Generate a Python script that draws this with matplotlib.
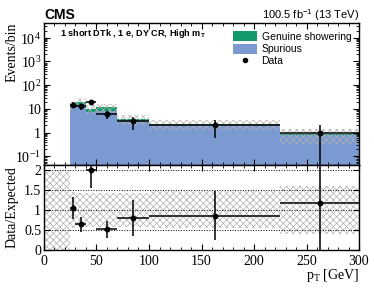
import numpy as np
import matplotlib
matplotlib.use('Agg')
import matplotlib.pyplot as plt
from matplotlib.patches import Patch
from matplotlib.lines import Line2D
from matplotlib.ticker import FixedLocator, FixedFormatter, MultipleLocator, NullFormatter

plt.rcParams['font.family'] = ['Liberation Serif', 'DejaVu Serif']
plt.rcParams['mathtext.fontset'] = 'custom'
plt.rcParams['mathtext.rm'] = 'Liberation Serif'
plt.rcParams['hatch.linewidth'] = 0.5

# binning (GeV)
bin_edges = [25, 30, 40, 50, 70, 100, 225, 300]

# stacked backgrounds (events/bin)
spurious = [11.5, 14.5, 7.2, 8.4, 3.2, 2.15, 0.82]
genuine = [2.9, 5.8, 2.8, 3.1, 0.6, 0.18, 0.03]
# relative uncertainty on expectation
rel_unc = [0.45, 0.42, 0.42, 0.42, 0.43, 0.46, 0.60]

# data
data = [15, 13, 20, 6, 3, 2, 1]
data_err = [3.9, 3.6, 4.5, 2.4, 1.7, 1.4, 1.0]

# ratio panel
ratio = [1.04, 0.64, 2.0, 0.52, 0.79, 0.86, 1.18]
ratio_err = [0.27, 0.18, 0.45, 0.21, 0.45, 0.61, 1.18]

edges = np.array(bin_edges, dtype=float)
widths = np.diff(edges)
centers = edges[:-1] + widths / 2
spurious = np.array(spurious)
genuine = np.array(genuine)
expected = spurious + genuine
rel_unc = np.array(rel_unc)

blue = '#7b9ad2'
green = '#13996a'
hatch_col = '#b0b0b0'
sans = 'Liberation Sans'

fig = plt.figure(figsize=(3.74, 3.01), dpi=100)
ax1 = fig.add_axes([0.1176, 0.4518, 0.8424, 0.4728])
ax2 = fig.add_axes([0.1176, 0.1694, 0.8424, 0.2824], sharex=ax1)

# --- top panel
ax1.bar(edges[:-1], spurious, width=widths, align='edge', color=blue, lw=0)
ax1.bar(edges[:-1], genuine, width=widths, bottom=spurious, align='edge', color=green, lw=0)
ax1.bar(edges[:-1], 2 * rel_unc * expected, width=widths, bottom=expected * (1 - rel_unc),
        align='edge', fill=False, hatch='xxxxx', edgecolor=hatch_col, lw=0)
ax1.errorbar(centers, data, xerr=widths / 2, yerr=data_err, fmt='o', color='black',
             ms=3.2, elinewidth=1.1, capsize=0)

ax1.set_yscale('log')
ax1.set_ylim(0.043, 4.3e4)
ax1.set_xlim(0, 300)
ax1.yaxis.set_major_locator(FixedLocator([0.1, 1, 10, 100, 1e3, 1e4]))
ax1.yaxis.set_major_formatter(FixedFormatter([r'$10^{-1}$', '1', '10', r'$10^{2}$', r'$10^{3}$', r'$10^{4}$']))
ax1.yaxis.set_minor_locator(matplotlib.ticker.LogLocator(subs=np.arange(2, 10), numticks=20))
ax1.yaxis.set_minor_formatter(NullFormatter())
ax1.tick_params(axis='x', labelbottom=False)
ax1.set_ylabel('Events/bin', fontsize=10, loc='top')
ax1.yaxis.set_label_coords(-0.08, 1.0)

ax1.text(0.05, 0.905, r'1 short DTk , 1 e, DY CR, High m$_{\mathdefault{T}}$', transform=ax1.transAxes,
         family=sans, fontweight='bold', fontsize=6.6, va='baseline')

handles = [Patch(facecolor=green, lw=0), Patch(facecolor=blue, lw=0),
           Line2D([], [], marker='o', color='black', ls='none', ms=3)]
ax1.legend(handles, ['Genuine showering', 'Spurious', 'Data'], loc='upper left',
           bbox_to_anchor=(0.585, 0.975), frameon=False, borderpad=0, handlelength=2.3,
           handleheight=1.1, handletextpad=0.4, labelspacing=0.15,
           prop={'family': sans, 'size': 7.5})

fig.text(0.118, 0.937, 'CMS', family=sans, fontweight='bold', fontsize=10, va='baseline')
fig.text(0.96, 0.937, r'100.5 fb$^{\mathdefault{-1}}$ (13 TeV)', family=sans, fontsize=8,
         ha='right', va='baseline')

# --- ratio panel
ax2.bar(0, 2, width=25, align='edge', fill=False, hatch='xxxxx', edgecolor=hatch_col, lw=0)
ax2.bar(edges[:-1], 2 * rel_unc, width=widths, bottom=1 - rel_unc, align='edge',
        fill=False, hatch='xxxxx', edgecolor=hatch_col, lw=0)
for yv in [0.5, 1.0, 1.5, 2.0]:
    ax2.axhline(yv, color='black', ls=':', lw=0.7)
ax2.errorbar(centers, ratio, xerr=widths / 2, yerr=ratio_err, fmt='o', color='black',
             ms=3.2, elinewidth=1.1, capsize=0)
ax2.set_ylim(0, 2.12)
ax2.set_xlim(0, 300)
ax2.yaxis.set_major_locator(FixedLocator([0, 0.5, 1, 1.5, 2]))
ax2.yaxis.set_major_formatter(FixedFormatter(['0', '0.5', '1', '1.5', '2']))
ax2.xaxis.set_major_locator(MultipleLocator(50))
ax2.xaxis.set_minor_locator(MultipleLocator(10))
ax2.set_ylabel('Data/Expected', fontsize=10)
ax2.yaxis.set_label_coords(-0.08, 0.5)
ax2.set_xlabel(r'p$_{\mathdefault{T}}$ [GeV]', fontsize=10, loc='right')
ax2.xaxis.set_label_coords(1.0, -0.2)

for ax in (ax1, ax2):
    ax.tick_params(which='both', direction='in', top=True, right=True, labelsize=10)
    ax.tick_params(which='major', length=4.5, width=0.8)
    ax.tick_params(which='minor', length=2.5, width=0.6)
    ax.tick_params(axis='y', pad=2)
    for s in ax.spines.values():
        s.set_linewidth(1.0)

fig.savefig('out.png', dpi=100)
